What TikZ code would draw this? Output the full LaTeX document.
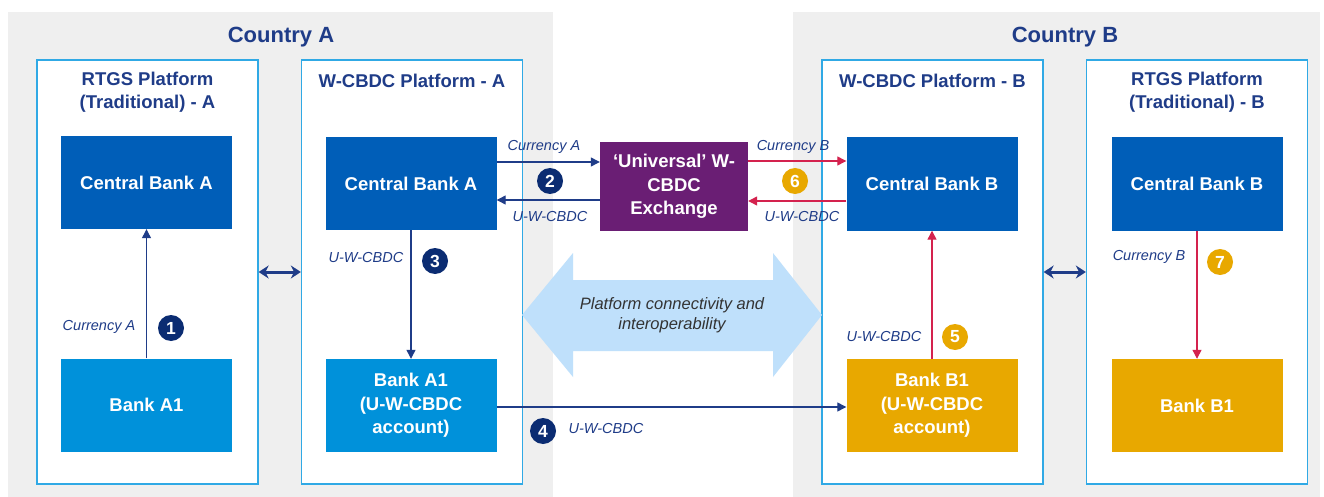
\documentclass[tikz,border=0pt]{standalone}
\usepackage{fontspec}
\setmainfont{Liberation Sans}
\usetikzlibrary{arrows.meta}
\definecolor{bggray}{HTML}{EFEFEF}
\definecolor{navytxt}{HTML}{1F3C88}
\definecolor{navycirc}{HTML}{0B2C72}
\definecolor{pborder}{HTML}{30A9E5}
\definecolor{cbblue}{HTML}{005EB8}
\definecolor{bankblue}{HTML}{0091DA}
\definecolor{gold}{HTML}{E8A800}
\definecolor{exchpurple}{HTML}{6A1E74}
\definecolor{redarr}{HTML}{D4224E}
\definecolor{lightarrow}{HTML}{BFE0FB}
\definecolor{darkgraytxt}{HTML}{333333}
\begin{document}
\begin{tikzpicture}[x=1pt,y=-1pt,
  country/.style={fill=bggray, draw=none},
  ctitle/.style={text=navytxt, font=\fontsize{22}{26}\selectfont\bfseries},
  platform/.style={draw=pborder, line width=1.3pt, fill=white, minimum width=221pt, minimum height=424pt, inner sep=0pt},
  ptitle/.style={text=navytxt, font=\fontsize{18.5}{23}\selectfont\bfseries, align=center},
  box/.style={minimum width=171pt, minimum height=93pt, inner sep=0pt, text=white, align=center, font=\fontsize{18.5}{23.5}\selectfont\bfseries},
  lbl/.style={text=navytxt, font=\fontsize{14.5}{17}\selectfont\itshape, inner sep=0pt},
  num/.style={circle, minimum size=26pt, inner sep=0pt, text=white, font=\fontsize{17.5}{17.5}\selectfont\bfseries},
  arr/.style={draw=navytxt, line width=1.2pt, -{Triangle[length=9pt,width=9pt]}},
  rarr/.style={draw=redarr, line width=1.2pt, -{Triangle[length=9pt,width=9pt]}},
  dbl/.style={draw=navytxt, line width=3pt, {Stealth[length=10pt,width=13pt]}-{Stealth[length=10pt,width=13pt]}}
]
\useasboundingbox (0,0) rectangle (1324,497);
\fill[white] (0,0) rectangle (1324,497);
% country backgrounds
\fill[country] (8,12) rectangle (553,497);
\fill[country] (793,12) rectangle (1320,497);
\node[ctitle] (ctA) at (281,37) {Country A};
\node[ctitle] (ctB) at (1065,37) {Country B};
% platforms
\node[platform] (rtgsA) at (147.5,272) {};
\node[platform] (wA) at (412,272) {};
\node[platform] (wB) at (932.5,272) {};
\node[platform] (rtgsB) at (1197,272) {};
\node[ptitle] (trA) at (147.5,92.5) {RTGS Platform\\(Traditional) - A};
\node[ptitle] (twA) at (412,81) {W-CBDC Platform - A};
\node[ptitle] (twB) at (932.5,81) {W-CBDC Platform - B};
\node[ptitle] (trB) at (1197,92.5) {RTGS Platform\\(Traditional) - B};
% big connectivity arrow
\fill[lightarrow] (522,315) -- (573,253) -- (573,280) -- (773,280) -- (773,253) -- (822,315) -- (773,377) -- (773,351) -- (573,351) -- (573,377) -- cycle;
\node[text=darkgraytxt, font=\fontsize{16.5}{20}\selectfont\itshape, align=center] (conn) at (672,315) {Platform connectivity and\\interoperability};
% inner boxes
\node[box, fill=cbblue] (cbA1) at (146.5,182.5) {Central Bank A};
\node[box, fill=bankblue] (bankA1) at (146.5,405) {Bank A1};
\node[box, fill=cbblue] (cbA2) at (411,183.5) {Central Bank A};
\node[box, fill=bankblue] (bankA2) at (411,405.5) {Bank A1\\(U-W-CBDC\\account)};
\node[box, fill=cbblue] (cbB2) at (932,184) {Central Bank B};
\node[box, fill=gold] (bankB2) at (932,405.5) {Bank B1\\(U-W-CBDC\\account)};
\node[box, fill=cbblue] (cbB1) at (1197,184) {Central Bank B};
\node[box, fill=gold] (bankB1) at (1197,405.5) {Bank B1};
\node[box, fill=exchpurple, minimum width=148pt, minimum height=89pt] (exch) at (674,186.5) {‘Universal’ W-\\CBDC\\Exchange};
% platform links
\draw[dbl] (rtgsA.east |- 0,272) -- (wA.west |- 0,272);
\draw[dbl] (wB.east |- 0,272) -- (rtgsB.west |- 0,272);
% flows
\draw[arr] (bankA1.north) -- (cbA1.south);
\draw[arr] (cbA2.east |- 0,162) -- (exch.west |- 0,162);
\draw[arr] (exch.west |- 0,200) -- (cbA2.east |- 0,200);
\draw[arr] (cbA2.south) -- (bankA2.north);
\draw[arr] (bankA2.east |- 0,407) -- (bankB2.west |- 0,407);
\draw[rarr] (bankB2.north) -- (cbB2.south);
\draw[rarr] (exch.east |- 0,161) -- (cbB2.west |- 0,161);
\draw[rarr] (cbB2.west |- 0,201) -- (exch.east |- 0,201);
\draw[rarr] (cbB1.south) -- (bankB1.north);
% labels
\node[lbl] (l1) at (99,327) {Currency A};
\node[lbl] (l2a) at (544,147) {Currency A};
\node[lbl] (l2b) at (550,217) {U-W-CBDC};
\node[lbl] (l3) at (366,258) {U-W-CBDC};
\node[lbl] (l4) at (606,429) {U-W-CBDC};
\node[lbl] (l5) at (884,337) {U-W-CBDC};
\node[lbl] (l6a) at (793,147) {Currency B};
\node[lbl] (l6b) at (802,217) {U-W-CBDC};
\node[lbl] (l7) at (1149,257) {Currency B};
% numbers
\node[num, fill=navycirc] (n1) at (171,328) {1};
\node[num, fill=navycirc] (n2) at (550,181) {2};
\node[num, fill=navycirc] (n3) at (435,261) {3};
\node[num, fill=navycirc] (n4) at (543,431) {4};
\node[num, fill=gold] (n5) at (955,337) {5};
\node[num, fill=gold] (n6) at (795,181) {6};
\node[num, fill=gold] (n7) at (1220,262) {7};
\end{tikzpicture}
\end{document}
